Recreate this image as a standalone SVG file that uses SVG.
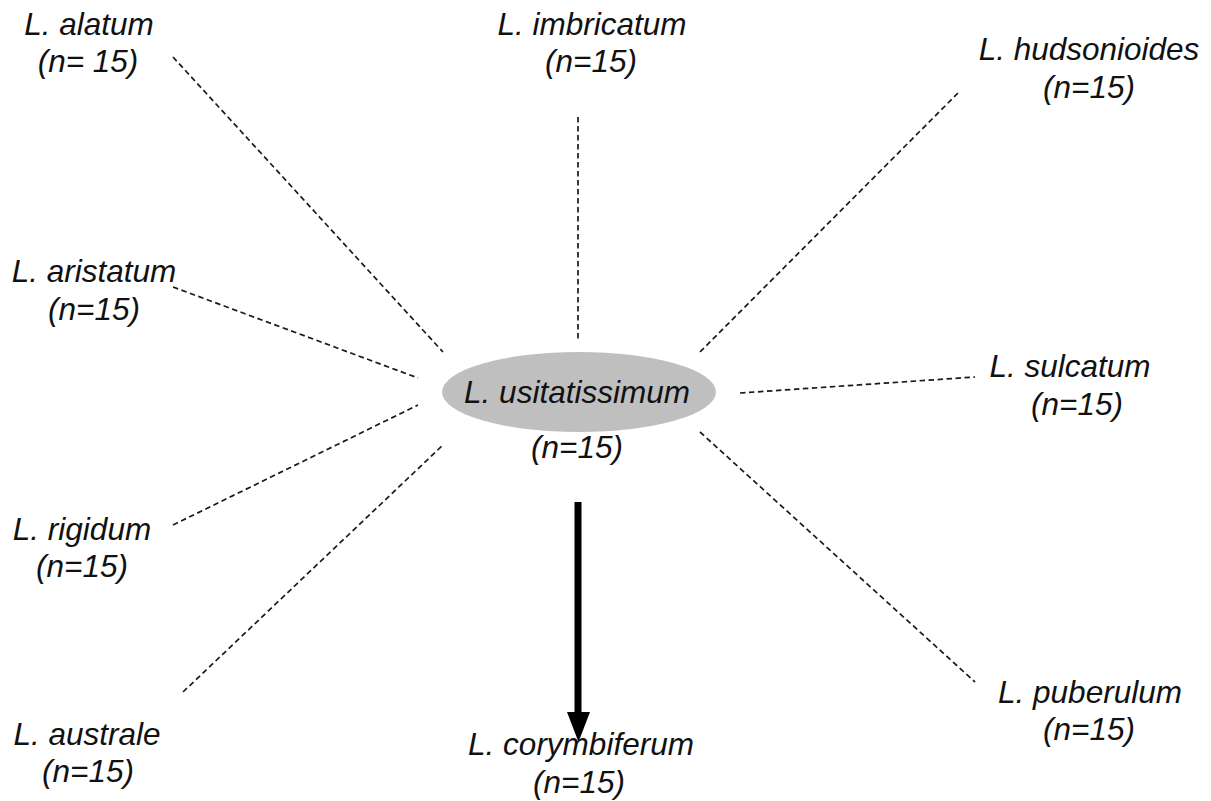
<svg xmlns="http://www.w3.org/2000/svg" width="1211" height="801" viewBox="0 0 1211 801">
<style>
text{font-family:"Liberation Sans",Arial,sans-serif;font-style:italic;font-size:31.5px;fill:#111;text-anchor:middle}
.d{stroke:#1a1a1a;stroke-width:1.7;stroke-dasharray:5.5 3.5;fill:none}
</style>
<rect width="1211" height="801" fill="#fff"/>
<g id="connectors">
<line class="d" x1="173" y1="57" x2="443" y2="352"/>
<line class="d" x1="578" y1="117" x2="578" y2="340"/>
<line class="d" x1="958" y1="93" x2="700" y2="352"/>
<line class="d" x1="173" y1="287" x2="418" y2="378"/>
<line class="d" x1="740" y1="393" x2="975" y2="377"/>
<line class="d" x1="173" y1="525" x2="418" y2="405"/>
<line class="d" x1="183" y1="692" x2="443" y2="445"/>
<line class="d" x1="700" y1="432" x2="975" y2="682"/>
<rect x="574.5" y="502" width="7" height="212" fill="#000"/>
<polygon points="567,712 590,712 578.5,742" fill="#000"/>
</g>
<g id="center">
<ellipse cx="579" cy="392" rx="137" ry="40" fill="#bfbfbf"/>
<text x="577" y="403">L. usitatissimum</text>
<text x="577" y="458">(n=15)</text>
</g>
<g id="alatum"><text x="89" y="35">L. alatum</text><text x="88" y="72">(n= 15)</text></g>
<g id="imbricatum"><text x="592" y="35">L. imbricatum</text><text x="591" y="72">(n=15)</text></g>
<g id="hudsonioides"><text x="1089" y="60">L. hudsonioides</text><text x="1089" y="98">(n=15)</text></g>
<g id="aristatum"><text x="94" y="282">L. aristatum</text><text x="94" y="320">(n=15)</text></g>
<g id="sulcatum"><text x="1070" y="377">L. sulcatum</text><text x="1077" y="415">(n=15)</text></g>
<g id="rigidum"><text x="82" y="540">L. rigidum</text><text x="82" y="577">(n=15)</text></g>
<g id="australe"><text x="87" y="745">L. australe</text><text x="88" y="782">(n=15)</text></g>
<g id="corymbiferum"><text x="581" y="755">L. corymbiferum</text><text x="579" y="793">(n=15)</text></g>
<g id="puberulum"><text x="1090" y="703">L. puberulum</text><text x="1089" y="740">(n=15)</text></g>
</svg>
